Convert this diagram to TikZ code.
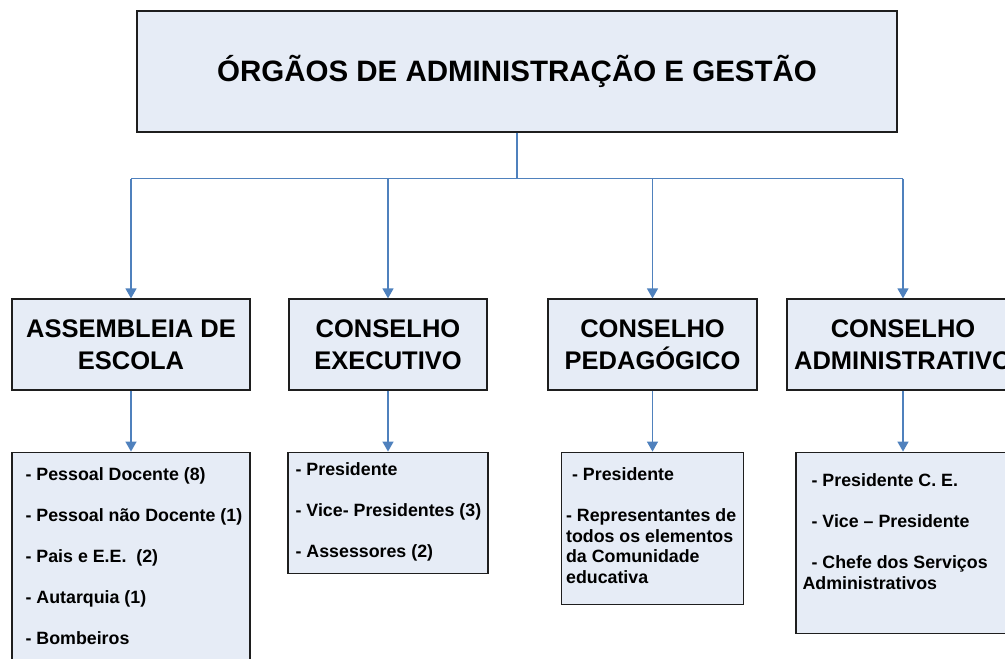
\documentclass[tikz,border=0pt]{standalone}
\usepackage{fontspec}
\setmainfont{Liberation Sans}
\usepackage{xcolor}
\usetikzlibrary{arrows.meta, positioning, calc}
\definecolor{boxfill}{RGB}{230, 236, 246}
\definecolor{boxline}{RGB}{30, 30, 30}
\definecolor{linkblue}{RGB}{79, 129, 189}

\begin{document}
\begin{tikzpicture}[
    x=1pt, y=1pt,
    headbox/.style={rectangle, draw=boxline, line width=1.2pt, fill=boxfill, minimum width=760pt, minimum height=121pt, inner sep=0pt, font=\fontsize{29.5}{35}\selectfont\bfseries},
    organ/.style={rectangle, draw=boxline, line width=1.2pt, fill=boxfill, minimum height=91pt, inner sep=0pt, align=center, font=\fontsize{25.5}{31.5}\selectfont\bfseries},
    members/.style={rectangle, draw=boxline, line width=1.2pt, fill=boxfill, inner sep=0pt},
    items/.style={anchor=north west, inner sep=0pt, align=left, font=\fontsize{17.8}{20.5}\selectfont\bfseries},
    link/.style={draw=linkblue, line width=1.4pt},
    arrow/.style={link, -{Triangle[width=11pt, length=10pt]}}
]
\useasboundingbox (0,0) rectangle (1005,659);

% Title
\node[headbox] (orgaos) at (517,587.5) {ÓRGÃOS DE ADMINISTRAÇÃO E GESTÃO};

% Organs
\node[organ, minimum width=238pt] (ae) at (131,314.5) {ASSEMBLEIA DE\\ESCOLA};
\node[organ, minimum width=198pt] (ce) at (388,314.5) {CONSELHO\\EXECUTIVO};
\node[organ, minimum width=209pt] (cp) at (652.5,314.5) {CONSELHO\\PEDAGÓGICO};
\node[organ, minimum width=232pt] (ca) at (903,314.5) {CONSELHO\\ADMINISTRATIVO};

% Members (boxes)
\node[members, below=61pt of ae, minimum width=238pt, minimum height=240pt] (aeList) {};
\node[members, below=61pt of ce, minimum width=200pt, minimum height=121pt] (ceList) {};
\node[members, below=61pt of cp, minimum width=182pt, minimum height=152pt] (cpList) {};
\node[members, below=61pt of ca, minimum width=214pt, minimum height=181pt] (caList) {};

% Members (texts)
\node[items] (aeText) at ([xshift=14pt, yshift=-16pt]aeList.north west)
    {- Pessoal Docente (8)\\[20.5pt]- Pessoal não Docente (1)\\[20.5pt]- Pais e E.E.\ \ (2)\\[20.5pt]- Autarquia (1)\\[20.5pt]- Bombeiros};
\node[items] (ceText) at ([xshift=8pt, yshift=-11pt]ceList.north west)
    {- Presidente\\[20.5pt]- Vice- Presidentes (3)\\[20.5pt]- Assessores (2)};
\node[items] (cpText) at ([xshift=5pt, yshift=-16pt]cpList.north west)
    {\hspace{6pt}- Presidente\\[20.5pt]- Representantes de\\todos os elementos\\da Comunidade\\educativa};
\node[items] (caText) at ([xshift=7pt, yshift=-22pt]caList.north west)
    {\hspace{9pt}- Presidente C. E.\\[20.5pt]\hspace{9pt}- Vice – Presidente\\[20.5pt]\hspace{9pt}- Chefe dos Serviços\\Administrativos};

% Links from the title
\draw[link] (orgaos.south) -- ++(0,-46) coordinate (bus);
\draw[link] (bus -| ae.north) -- (bus -| ca.north);
\draw[arrow] (bus -| ae.north) -- (ae.north);
\draw[arrow] (bus -| ce.north) -- (ce.north);
\draw[arrow] (bus -| cp.north) -- (cp.north);
\draw[arrow] (bus -| ca.north) -- (ca.north);

% Links to the members
\draw[arrow] (ae.south) -- (aeList.north);
\draw[arrow] (ce.south) -- (ceList.north);
\draw[arrow] (cp.south) -- (cp.south |- cpList.north);
\draw[arrow] (ca.south) -- (caList.north);

\end{tikzpicture}
\end{document}
